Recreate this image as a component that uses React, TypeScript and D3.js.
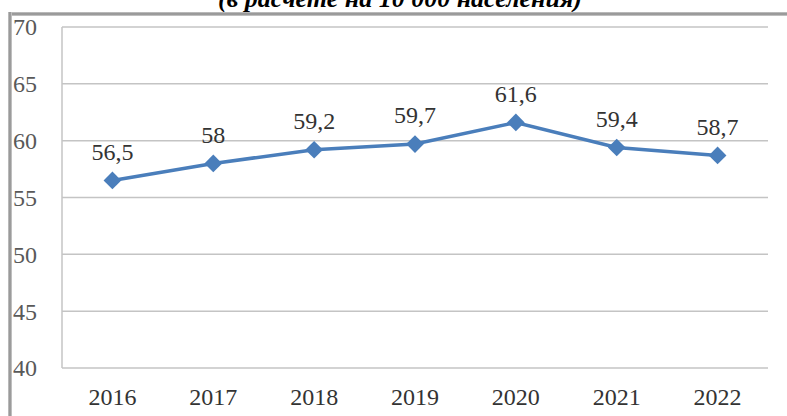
import React from "react";
import * as d3 from "d3";

const years = ["2016", "2017", "2018", "2019", "2020", "2021", "2022"];
const values = [56.5, 58, 59.2, 59.7, 61.6, 59.4, 58.7];
const valueLabels = ["56,5", "58", "59,2", "59,7", "61,6", "59,4", "58,7"];
const yTicks = [40, 45, 50, 55, 60, 65, 70];
const title = "(в расчете на 10 000 населения)";

const W = 787;
const H = 416;
const plot = { left: 62, right: 768, top: 27, bottom: 368 };
const serif = "Liberation Serif";

export default function App() {
  const x = d3.scaleBand().domain(years).range([plot.left, plot.right]);
  const y = d3.scaleLinear().domain([40, 70]).range([plot.bottom, plot.top]);
  const cx = (d: string) => (x(d) as number) + x.bandwidth() / 2;
  const line = d3
    .line<number>()
    .x((_, i) => cx(years[i]))
    .y((d) => y(d));
  const diamond = d3.symbol().type(d3.symbolDiamond2).size(200)();

  return (
    <svg
      width={W}
      height={H}
      style={{ position: "fixed", left: 0, top: 0, background: "#fff" }}
    >
      <defs>
        <linearGradient id="topFrame" x1="0" y1="0" x2="0" y2="1">
          <stop offset="0" stopColor="#c8c8c8" />
          <stop offset="0.5" stopColor="#8a8a8a" />
          <stop offset="1" stopColor="#d0d0d0" />
        </linearGradient>
        <linearGradient id="leftFrame" x1="0" y1="0" x2="1" y2="0">
          <stop offset="0" stopColor="#c8c8c8" />
          <stop offset="0.5" stopColor="#8a8a8a" />
          <stop offset="1" stopColor="#d0d0d0" />
        </linearGradient>
      </defs>
      <text
        x={400}
        y={7}
        textAnchor="middle"
        style={{ fontFamily: serif, fontWeight: "bold", fontStyle: "italic", fontSize: 26 }}
        fill="#000"
      >
        {title}
      </text>
      {/* outer frame */}
      <rect x={8} y={12} width={W - 8} height={4} fill="url(#topFrame)" />
      <rect x={8} y={12} width={4} height={H - 12} fill="url(#leftFrame)" />
      {/* gridlines */}
      {yTicks.map((t) => (
        <line
          key={t}
          x1={plot.left}
          x2={plot.right}
          y1={y(t)}
          y2={y(t)}
          stroke="#c4c4c4"
          strokeWidth={1.5}
        />
      ))}
      <line
        x1={plot.left}
        x2={plot.left}
        y1={plot.top}
        y2={plot.bottom}
        stroke="#c4c4c4"
        strokeWidth={1.5}
      />
      {/* y tick labels */}
      {yTicks.map((t) => (
        <text
          key={t}
          x={13}
          y={y(t)}
          dy="0.35em"
          style={{ fontFamily: serif, fontSize: 24 }}
          fill="#595959"
        >
          {t}
        </text>
      ))}
      {/* x labels */}
      {years.map((yr) => (
        <text
          key={yr}
          x={cx(yr)}
          y={405}
          textAnchor="middle"
          style={{ fontFamily: serif, fontSize: 24 }}
          fill="#333"
        >
          {yr}
        </text>
      ))}
      {/* line */}
      <path d={line(values) || ""} fill="none" stroke="#4a7ebb" strokeWidth={3.5} />
      {values.map((v, i) => (
        <path
          key={i}
          d={diamond || ""}
          transform={`translate(${cx(years[i])},${y(v)})`}
          fill="#4a7ebb"
        />
      ))}
      {values.map((v, i) => (
        <text
          key={i}
          x={cx(years[i])}
          y={y(v) - 29}
          dy="0.35em"
          textAnchor="middle"
          style={{ fontFamily: serif, fontSize: 24 }}
          fill="#333"
        >
          {valueLabels[i]}
        </text>
      ))}
    </svg>
  );
}
